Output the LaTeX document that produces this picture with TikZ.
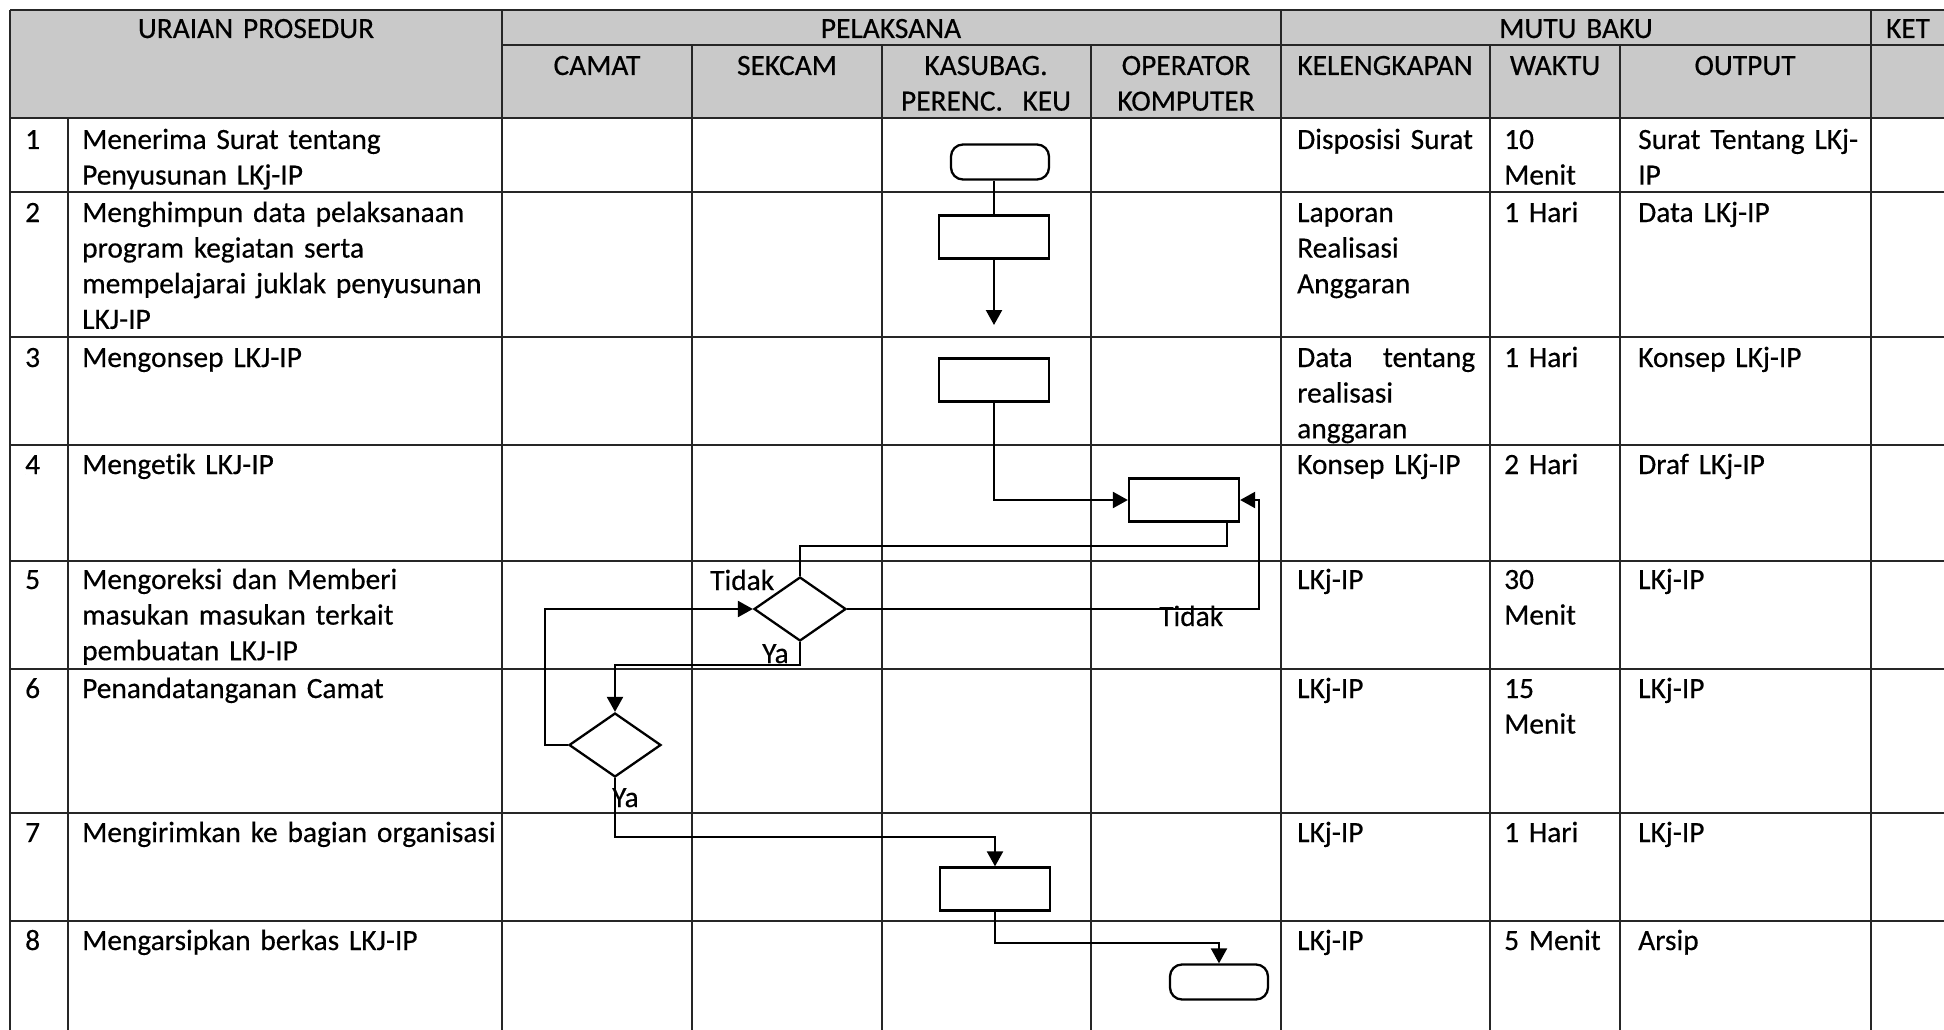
\documentclass[tikz,border=0pt]{standalone}
\usepackage{fontspec}
\setmainfont{Carlito}[Ligatures=NoCommon, UprightFeatures={FakeBold=0.4}]
\usepackage{tikz}
\usetikzlibrary{arrows.meta, shapes.geometric, positioning}

\definecolor{headgray}{RGB}{201,201,201}
\newcommand{\cellfont}{\fontsize{29.4}{35.6}\selectfont}

\tikzset{
  grid/.style={line width=1.5pt, draw=black!85},
  link/.style={line width=2.3pt},
  flow/.style={line width=2.3pt, -{Triangle[length=15pt, width=16pt]}},
  proc/.style={draw, line width=2.3pt, minimum width=110pt, minimum height=43pt, inner sep=0pt},
  term/.style={proc, rounded corners=12pt, minimum width=98pt, minimum height=35pt},
  decision/.style={draw, line width=2.3pt, diamond, minimum width=92pt, minimum height=64pt, inner sep=0pt},
  cell/.style={anchor=base west, inner sep=0pt, font=\cellfont, align=left},
  head/.style={anchor=base, inner sep=0pt, font=\cellfont, align=center, text width=188pt},
  lbl/.style={anchor=base west, inner sep=0pt, font=\cellfont}
}

\begin{document}
\begin{tikzpicture}[x=1pt, y=-1pt]
\useasboundingbox (0,0) rectangle (1944,1030);

\fill[headgray] (10,10) rectangle (1960,118);
\draw[grid] (10,10) -- (1960,10);
\draw[grid] (502,45) -- (1960,45);
\foreach \y in {118,192,337,445,561,669,813,921}
  \draw[grid] (10,\y) -- (1960,\y);
\foreach \x in {10,502,1281,1871}
  \draw[grid] (\x,10) -- (\x,1030);
\foreach \x in {692,882,1091,1490,1620}
  \draw[grid] (\x,45) -- (\x,1030);
\draw[grid] (68,118) -- (68,1030);

\node[head, text width=480pt] (huraian) at (256,38) {URAIAN PROSEDUR};
\node[head, text width=760pt] (hpelaksana) at (891,38) {PELAKSANA};
\node[head, text width=580pt] (hmutu) at (1576,38) {MUTU BAKU};
\node[head, text width=70pt] (hket) at (1908,38) {KET};
\node[head] (hcamat) at (597,75) {CAMAT};
\node[head] (hsekcam) at (787,75) {SEKCAM};
\node[head] (hkasubag) at (986,75) {KASUBAG.\\PERENC.\ \ KEU};
\node[head] (hoperator) at (1186,75) {OPERATOR\\KOMPUTER};
\node[head] (hlengkap) at (1385,75) {KELENGKAPAN};
\node[head] (hwaktu) at (1555,75) {WAKTU};
\node[head] (houtput) at (1745,75) {OUTPUT};

\foreach \y/\no/\uraian/\lengkap/\waktu/\output in {
  149/1/{Menerima Surat tentang\\Penyusunan LKj-IP}/{Disposisi Surat}/{10\\Menit}/{Surat Tentang LKj-\\IP},
  222/2/{Menghimpun data pelaksanaan\\program kegiatan serta\\mempelajarai juklak penyusunan\\LKJ-IP}/{Laporan\\Realisasi\\Anggaran}/{1 Hari}/{Data LKj-IP},
  367/3/{Mengonsep LKJ-IP}/{Data\hfill tentang\\realisasi\\anggaran}/{1 Hari}/{Konsep LKj-IP},
  474/4/{Mengetik LKJ-IP}/{Konsep LKj-IP}/{2 Hari}/{Draf LKj-IP},
  589/5/{Mengoreksi dan Memberi\\masukan masukan terkait\\pembuatan LKJ-IP}/{LKj-IP}/{30\\Menit}/{LKj-IP},
  698/6/{Penandatanganan Camat}/{LKj-IP}/{15\\Menit}/{LKj-IP},
  842/7/{Mengirimkan ke bagian organisasi}/{LKj-IP}/{1 Hari}/{LKj-IP},
  950/8/{Mengarsipkan berkas LKJ-IP}/{LKj-IP}/{5 Menit}/{Arsip}} {
  \node[cell] (no\no) at (25,\y) {\no};
  \node[cell, text width=415pt] (uraian\no) at (82,\y) {\uraian};
  \node[cell, text width=178pt] (lengkap\no) at (1297,\y) {\lengkap};
  \node[cell, text width=110pt] (waktu\no) at (1504,\y) {\waktu};
  \node[cell, text width=225pt] (output\no) at (1638,\y) {\output};
}

\node[term] (start) at (1000,162) {};
\node[proc] (susun) at (994,237) {};
\node[proc] (konsep) at (994,380) {};
\node[proc] (ketik) at (1184,500) {};
\node[decision] (koreksi) at (800,609) {};
\node[decision] (ttd) at (615,745) {};
\node[proc] (kirim) at (995,889) {};
\node[term] (arsip) at (1219,982) {};
\coordinate (lepas) at (990,325);

\draw[link] (susun.north) -- (susun.north |- start.south);
\draw[flow] (susun.south) -- (susun.south |- lepas);
\draw[flow] (konsep.south) |- (ketik.west);
\draw[link] ([xshift=43pt]ketik.south) -- ++(0,23) -| (koreksi.north);
\draw[flow] (koreksi.east) -| ([xshift=19pt]ketik.east) -- (ketik.east);
\draw[flow] (koreksi.south) -- ++(0,23) -| (ttd.north);
\draw[flow] (ttd.west) -- ++(-23,0) |- (koreksi.west);
\draw[flow] (ttd.south) -- ++(0,59) -| (kirim.north);
\draw[flow] (kirim.south) -- ++(0,31) -| (arsip.north);

\node[lbl] (tidak1) at (710,590) {Tidak};
\node[lbl] (tidak2) at (1159,626) {Tidak};
\node[lbl] (ya1) at (762,663) {Ya};
\node[lbl] (ya2) at (612,807) {Ya};
\end{tikzpicture}
\end{document}
